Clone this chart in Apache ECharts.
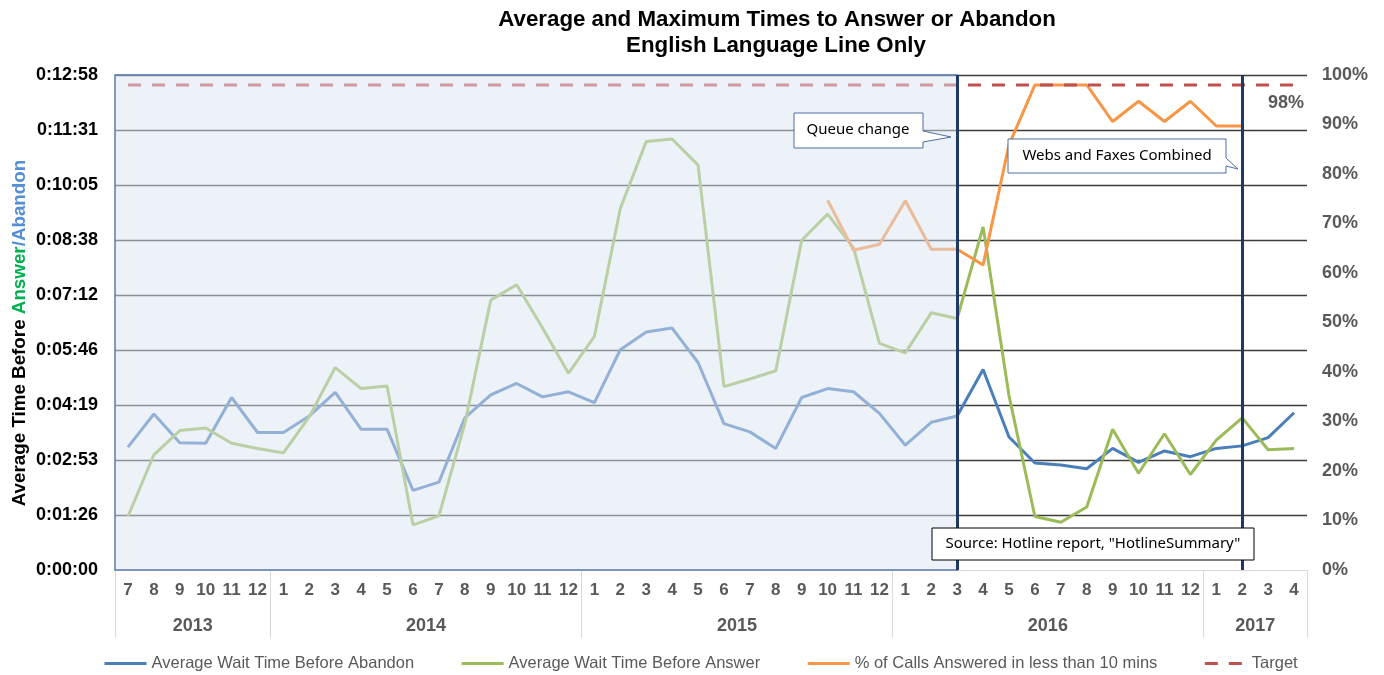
<!DOCTYPE html>
<html>
<head>
<meta charset="utf-8">
<title>Average and Maximum Times to Answer or Abandon</title>
<style>
  html, body { margin: 0; padding: 0; background: #fff; }
  #chart { width: 1384px; height: 675px; }
</style>
<script src="https://cdn.jsdelivr.net/npm/echarts@6/dist/echarts.min.js"></script>
</head>
<body>
<div id="chart"></div>
<script>
// months, Jul 2013 .. Apr 2017
const categories = [
  '2013-7', '2013-8', '2013-9', '2013-10', '2013-11', '2013-12',
  '2014-1', '2014-2', '2014-3', '2014-4', '2014-5', '2014-6', '2014-7', '2014-8', '2014-9', '2014-10', '2014-11', '2014-12',
  '2015-1', '2015-2', '2015-3', '2015-4', '2015-5', '2015-6', '2015-7', '2015-8', '2015-9', '2015-10', '2015-11', '2015-12',
  '2016-1', '2016-2', '2016-3', '2016-4', '2016-5', '2016-6', '2016-7', '2016-8', '2016-9', '2016-10', '2016-11', '2016-12',
  '2017-1', '2017-2', '2017-3', '2017-4'
];
const years = ['2013', '2014', '2015', '2016', '2017'];
const yearMid = [2.5, 11.5, 23.5, 35.5, 43.5];       // centre of each year group (category index)
const yearEdge = [-0.5, 5.5, 17.5, 29.5, 41.5, 45.5]; // separators between years

// seconds
const waitAbandon = [
  193, 245, 200, 199, 271, 216, 216, 242, 279, 221,
  221, 125, 138, 239, 275, 293, 272, 280, 263, 346,
  374, 380, 326, 230, 217, 191, 271, 285, 280, 246,
  196, 232, 242, 315, 209, 168, 165, 159, 191, 169,
  187, 178, 191, 195, 208, 247
];
const waitAnswer = [
  84, 181, 219, 223, 199, 191, 184, 241, 318, 285,
  289, 71, 85, 230, 424, 448, 380, 309, 367, 568,
  673, 677, 636, 288, 300, 313, 518, 559, 506, 356,
  341, 404, 395, 539, 274, 84, 75, 99, 221, 152,
  214, 150, 204, 239, 189, 191
];
// percent
const pctUnder10 = [
  null, null, null, null, null, null, null, null, null, null,
  null, null, null, null, null, null, null, null, null, null,
  null, null, null, null, null, null, null, 74.7, 64.6, 65.8,
  74.6, 64.8, 64.8, 61.6, 85.9, 98, 98, 98, 90.6, 94.7,
  90.6, 94.7, 89.7, 89.7, null, null
];
const target = categories.map(() => 98);

const queueChange = '2016-3';
const webFaxMerge = '2017-2';

const pad = n => (n < 10 ? '0' : '') + n;
const hms = v => {
  const s = Math.round(v);
  return Math.floor(s / 3600) + ':' + pad(Math.floor(s % 3600 / 60)) + ':' + pad(s % 60);
};

const FONT = 'Liberation Sans, Arial, sans-serif';
const NOTE = 'Noto Sans, Open Sans, sans-serif';

const chart = echarts.init(document.getElementById('chart'));

chart.setOption({
  animation: false,
  grid: { left: 115, right: 77, top: 75, bottom: 105, outerBoundsMode: 'none' },
  legend: {
    left: 98,
    top: 650,
    itemWidth: 42,
    itemHeight: 10,
    itemGap: 46,
    itemStyle: { opacity: 0 },
    lineStyle: { width: 3 },
    textStyle: { fontFamily: FONT, fontSize: 16.5, color: '#595959' },
    data: ['Average Wait Time Before Abandon', 'Average Wait Time Before Answer',
      '% of Calls Answered in less than 10 mins', 'Target']
  },
  xAxis: [
    {
      type: 'category',
      data: categories,
      boundaryGap: true,
      axisLine: { lineStyle: { color: '#D9D9D9' } },
      axisTick: { show: false },
      axisLabel: {
        interval: 0,
        margin: 12,
        formatter: v => v.split('-')[1],
        fontFamily: FONT, fontSize: 17, fontWeight: 'bold', color: '#595959'
      }
    },
    {
      type: 'value',
      position: 'bottom',
      offset: 0,
      min: -0.5,
      max: 45.5,
      axisLine: { show: false },
      splitLine: { show: false },
      axisTick: {
        show: true, length: 68, customValues: yearEdge,
        lineStyle: { color: '#D9D9D9' }
      },
      axisLabel: {
        customValues: yearMid,
        margin: 47,
        formatter: v => years[yearMid.indexOf(v)],
        fontFamily: FONT, fontSize: 18, fontWeight: 'bold', color: '#595959'
      }
    }
  ],
  yAxis: [
    {
      type: 'value',
      min: 0,
      max: 777.6,
      interval: 86.4,
      axisLine: { show: false },
      axisTick: { show: false },
      axisLabel: {
        margin: 17,
        formatter: hms,
        fontFamily: FONT, fontSize: 18, fontWeight: 'bold', color: '#000'
      },
      splitLine: { show: true, showMinLine: false, lineStyle: { color: '#3C3C3C', width: 1.3 } }
    },
    {
      type: 'value',
      position: 'right',
      min: 0,
      max: 100,
      interval: 10,
      axisLine: { show: false },
      axisTick: { show: false },
      splitLine: { show: false },
      axisLabel: {
        margin: 15,
        formatter: '{value}%',
        fontFamily: FONT, fontSize: 18, fontWeight: 'bold', color: '#595959'
      }
    }
  ],
  series: [
    {
      name: 'Average Wait Time Before Abandon',
      type: 'line',
      data: waitAbandon,
      symbol: 'none',
      lineStyle: { color: '#4A7EBB', width: 3 },
      itemStyle: { color: '#4A7EBB' }
    },
    {
      name: 'Average Wait Time Before Answer',
      type: 'line',
      data: waitAnswer,
      symbol: 'none',
      lineStyle: { color: '#9BBB59', width: 3 },
      itemStyle: { color: '#9BBB59' }
    },
    {
      name: '% of Calls Answered in less than 10 mins',
      type: 'line',
      yAxisIndex: 1,
      data: pctUnder10,
      symbol: 'none',
      connectNulls: false,
      lineStyle: { color: '#F79646', width: 3 },
      itemStyle: { color: '#F79646' }
    },
    {
      name: 'Target',
      type: 'line',
      yAxisIndex: 1,
      symbol: 'none',
      data: target,
      lineStyle: { color: '#C0504D', width: 3, type: [13, 11] },
      itemStyle: { color: '#C0504D' },
      markPoint: {
        silent: true,
        symbol: 'circle',
        symbolSize: 0,
        label: {
          show: true, position: 'bottom', distance: 9, offset: [-8, 0],
          formatter: '{c}%',
          fontFamily: FONT, fontSize: 18, fontWeight: 'bold', color: '#595959'
        },
        data: [{ coord: [categories[categories.length - 1], target[target.length - 1]], value: target[target.length - 1] }]
      },
      markArea: {
        silent: true,
        z: 10,
        itemStyle: { color: 'rgba(219,228,241,0.5)', borderColor: '#5A7DB0', borderWidth: 1.5 },
        data: [[{}, { xAxis: queueChange }]]
      },
      markLine: {
        silent: true,
        z: 12,
        symbol: ['none', 'none'],
        label: { show: false },
        lineStyle: { color: '#203864', width: 3, type: 'solid' },
        data: [{ xAxis: queueChange }, { xAxis: webFaxMerge }]
      }
    }
  ],
  graphic: [
    {
      type: 'text', x: 777, y: 9, z: 100,
      style: {
        text: 'Average and Maximum Times to Answer or Abandon',
        textAlign: 'center', fill: '#000',
        font: 'bold 22.3px ' + FONT
      }
    },
    {
      type: 'text', x: 776, y: 35, z: 100,
      style: {
        text: 'English Language Line Only',
        textAlign: 'center', fill: '#000',
        font: 'bold 22.3px ' + FONT
      }
    },
    {
      // y-axis title, two-coloured
      type: 'text', x: 20, y: 333, z: 100, rotation: Math.PI / 2,
      style: {
        text: '{k|Average Time Before }{g|Answer}{b|/Abandon}',
        textAlign: 'center', textVerticalAlign: 'middle',
        rich: {
          k: { fill: '#000', fontFamily: FONT, fontSize: 18.8, fontWeight: 'bold' },
          g: { fill: '#00B050', fontFamily: FONT, fontSize: 18.8, fontWeight: 'bold' },
          b: { fill: '#558ED5', fontFamily: FONT, fontSize: 18.8, fontWeight: 'bold' }
        }
      }
    },
    {
      type: 'polygon', z: 100,
      shape: { points: [[794, 113], [923, 113], [923, 131], [951, 137], [923, 142], [923, 148], [794, 148]] },
      style: { fill: '#fff', stroke: '#4F6EA0', lineWidth: 1 }
    },
    {
      type: 'text', x: 858, y: 130, z: 101,
      style: { text: 'Queue change', textAlign: 'center', textVerticalAlign: 'middle', fill: '#000', font: '15px ' + NOTE }
    },
    {
      type: 'polygon', z: 100,
      shape: { points: [[1008, 139], [1226, 139], [1226, 158], [1238, 169], [1226, 166], [1226, 173], [1008, 173]] },
      style: { fill: '#fff', stroke: '#4F6EA0', lineWidth: 1 }
    },
    {
      type: 'text', x: 1117, y: 156, z: 101,
      style: { text: 'Webs and Faxes Combined', textAlign: 'center', textVerticalAlign: 'middle', fill: '#000', font: '15px ' + NOTE }
    },
    {
      type: 'rect', z: 100,
      shape: { x: 932, y: 528, width: 322, height: 32 },
      style: { fill: '#fff', stroke: '#000', lineWidth: 1 }
    },
    {
      type: 'text', x: 1093, y: 544, z: 101,
      style: { text: 'Source: Hotline report, "HotlineSummary"', textAlign: 'center', textVerticalAlign: 'middle', fill: '#000', font: '15px ' + NOTE }
    }
  ]
});
</script>
</body>
</html>
